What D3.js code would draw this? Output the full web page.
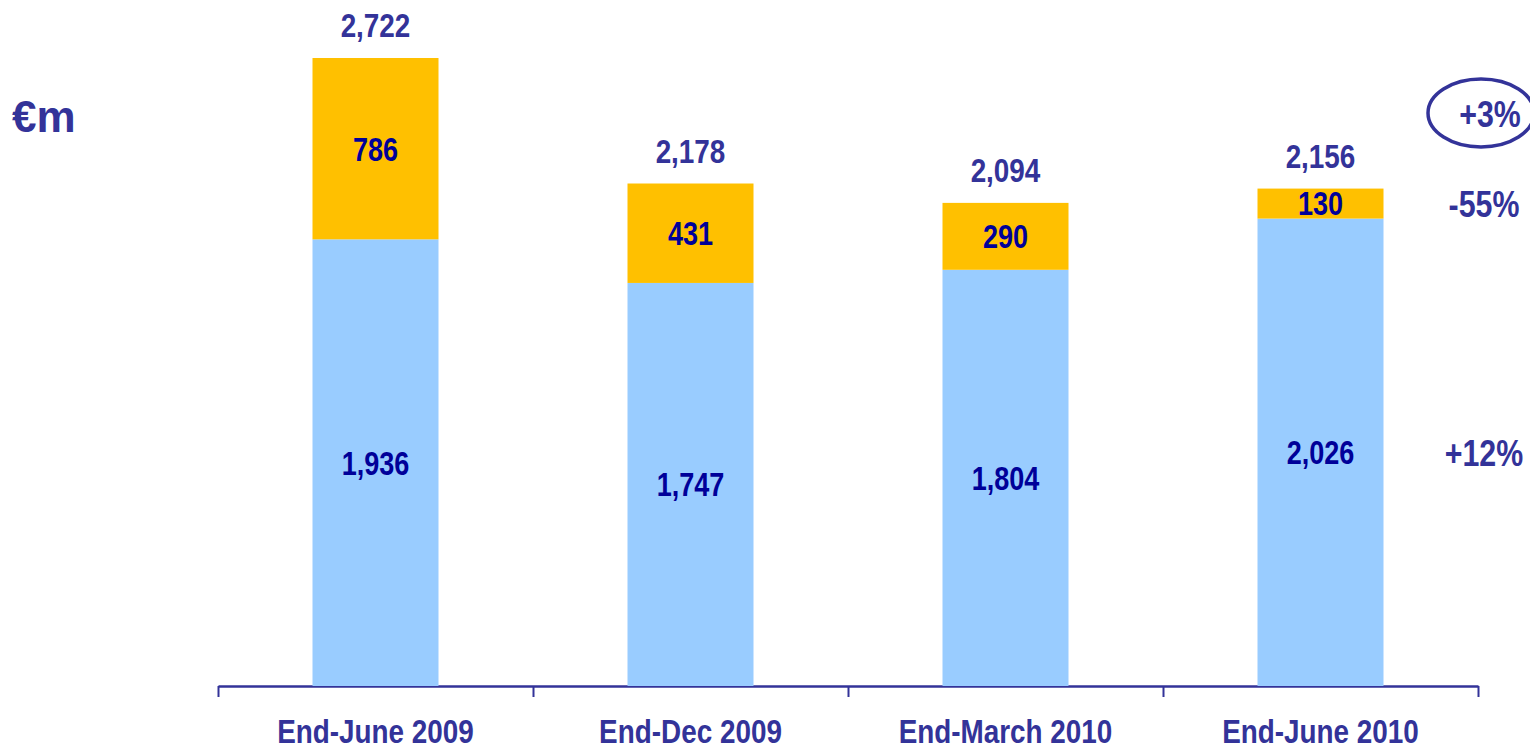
<!DOCTYPE html>
<html>
<head>
<meta charset="utf-8">
<script src="https://cdn.jsdelivr.net/npm/d3@7"></script>
<style>
  body { margin: 0; background: #fff; }
  svg { display: block; }
  text { font-family: "Liberation Sans", Arial, sans-serif; font-weight: bold; }
</style>
</head>
<body>
<div id="chart"></div>
<script>
// chart data
const categories = ['End-June 2009', 'End-Dec 2009', 'End-March 2010', 'End-June 2010'];
const baseValues = [1936, 1747, 1804, 2026];
const topValues = [786, 431, 290, 130];
const totals = [2722, 2178, 2094, 2156];
const changes = { total: '+3%', top: '-55%', base: '+12%' };

const width = 1530, height = 750;
const navy = '#333399';
const narrow = 0.82; // squeeze Liberation Sans to look like Arial Narrow

const svg = d3.select('#chart').append('svg')
  .attr('width', width)
  .attr('height', height);

const x = d3.scaleBand()
  .domain(categories)
  .range([218, 1478])
  .paddingInner(0.6)
  .paddingOuter(0.3);

const y = d3.scaleLinear().domain([0, 2800]).range([686, 40]);

// narrow text at (px, py)
function label(sel, px, py) {
  return sel.attr('transform', (d, i) => 'translate(' + px(d, i) + ',' + py(d, i) + ') scale(' + narrow + ',1)');
}

// axis with ticks between categories
const xEdge = d3.scaleLinear().domain([0, categories.length]).range([218, 1478]);
const axis = svg.append('g')
  .attr('transform', 'translate(0,' + y(0) + ')')
  .call(d3.axisBottom(xEdge)
    .tickValues(d3.range(categories.length + 1))
    .tickFormat('')
    .tickSize(11)
    .tickSizeOuter(0));
axis.select('.domain').attr('stroke', navy).attr('stroke-width', 2.5);
axis.selectAll('.tick line').attr('stroke', navy).attr('stroke-width', 2);

const rows = categories.map((c, i) => ({ cat: c, base: baseValues[i], top: topValues[i], total: totals[i] }));
const mid = d => x(d.cat) + x.bandwidth() / 2;

// base segment
svg.selectAll('.base').data(rows).enter().append('rect')
  .attr('class', 'base')
  .attr('x', d => x(d.cat))
  .attr('width', x.bandwidth())
  .attr('y', d => y(d.base))
  .attr('height', d => y(0) - y(d.base))
  .attr('fill', '#99CCFF');

// top segment
svg.selectAll('.top').data(rows).enter().append('rect')
  .attr('class', 'top')
  .attr('x', d => x(d.cat))
  .attr('width', x.bandwidth())
  .attr('y', d => y(d.base + d.top))
  .attr('height', d => y(d.base) - y(d.base + d.top))
  .attr('fill', '#FFC000');

const fmt = d3.format(',');

svg.selectAll('.baseLabel').data(rows).enter().append('text')
  .call(label, mid, d => (y(0) + y(d.base)) / 2)
  .attr('dy', '0.36em')
  .attr('text-anchor', 'middle')
  .attr('font-size', 33)
  .attr('fill', '#000099')
  .text(d => fmt(d.base));

svg.selectAll('.topLabel').data(rows).enter().append('text')
  .call(label, mid, d => (y(d.base) + y(d.base + d.top)) / 2)
  .attr('dy', '0.36em')
  .attr('text-anchor', 'middle')
  .attr('font-size', 33)
  .attr('fill', '#000099')
  .text(d => fmt(d.top));

svg.selectAll('.totalLabel').data(rows).enter().append('text')
  .call(label, mid, d => y(d.base + d.top) - 21)
  .attr('text-anchor', 'middle')
  .attr('font-size', 34)
  .attr('fill', navy)
  .text(d => fmt(d.total));

// category labels
svg.selectAll('.catLabel').data(categories).enter().append('text')
  .call(label, d => x(d) + x.bandwidth() / 2, () => 743)
  .attr('text-anchor', 'middle')
  .attr('font-size', 34)
  .attr('fill', navy)
  .text(d => d);

// unit label
svg.append('text')
  .attr('x', 12)
  .attr('y', 132)
  .attr('font-size', 44)
  .attr('fill', navy)
  .text('€m');

// change annotations on the right
const last = rows[rows.length - 1];
const cx = 1484;
svg.append('text')
  .datum(last)
  .call(label, () => cx, d => (y(0) + y(d.base)) / 2)
  .attr('dy', '0.36em')
  .attr('text-anchor', 'middle').attr('font-size', 37).attr('fill', navy)
  .text(changes.base);
svg.append('text')
  .datum(last)
  .call(label, () => cx, d => (y(d.base) + y(d.total)) / 2)
  .attr('dy', '0.36em')
  .attr('text-anchor', 'middle').attr('font-size', 37).attr('fill', navy)
  .text(changes.top);
svg.append('ellipse')
  .attr('cx', 1481).attr('cy', 113).attr('rx', 53).attr('ry', 34)
  .attr('fill', 'none').attr('stroke', navy).attr('stroke-width', 3.5);
svg.append('text')
  .call(label, () => 1490, () => 127)
  .attr('text-anchor', 'middle').attr('font-size', 37).attr('fill', navy)
  .text(changes.total);
</script>
</body>
</html>
